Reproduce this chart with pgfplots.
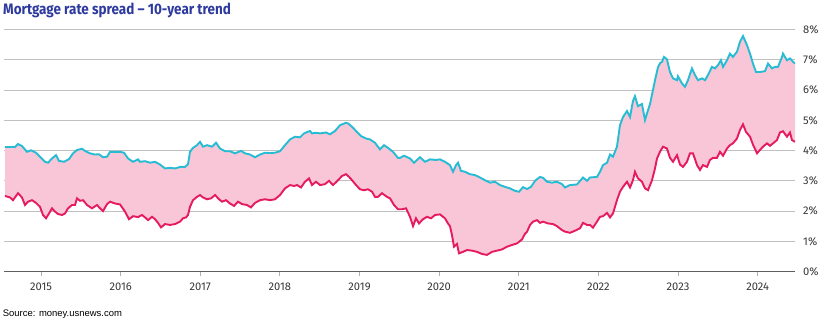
\documentclass[border=0pt]{standalone}
\usepackage{fontspec}
\setmainfont{Fira Sans}
\newfontfamily\titlefont[FakeStretch=0.89]{Fira Sans}
\newfontfamily\srcfont{Liberation Sans}
\usepackage{pgfplots}
\pgfplotsset{compat=1.18}
\usepgfplotslibrary{fillbetween}
\definecolor{upc}{RGB}{38,188,212}
\definecolor{loc}{RGB}{230,26,94}
\definecolor{fillc}{RGB}{248,198,214}
\definecolor{titlec}{RGB}{45,58,158}
\definecolor{gridc}{RGB}{192,192,192}
\definecolor{axisc}{RGB}{95,95,95}
\definecolor{tickmc}{RGB}{175,175,175}
\definecolor{tickc}{RGB}{55,55,55}
\begin{document}
\begin{tikzpicture}
\node[anchor=base west, inner sep=0pt, text=titlec, font=\titlefont\bfseries\fontsize{15.2}{18}\selectfont] at (3bp,-14bp) {Mortgage rate spread – 10-year trend};
\node[anchor=base west, inner sep=0pt, text=black, font=\srcfont\fontsize{9.5}{11}\selectfont] at (2.7bp,-316.5bp) {Source: money.usnews.com};
\begin{axis}[
  at={(4bp,-271.5bp)}, anchor=south west,
  scale only axis, width=791bp, height=241.8bp,
  xmin=2014.535, xmax=2024.469, ymin=0, ymax=8,
  axis x line*=bottom, axis y line*=right,
  y axis line style={draw=none},
  x axis line style={draw=axisc, line width=1.4bp},
  ymajorgrids, grid style={draw=gridc, line width=1bp},
  xtick={2015,2016,2017,2018,2019,2020,2021,2022,2023,2024},
  xticklabels={2015,2016,2017,2018,2019,2020,2021,2022,2023,2024},
  ytick={0,1,2,3,4,5,6,7,8},
  yticklabels={0\%,1\%,2\%,3\%,4\%,5\%,6\%,7\%,8\%},
  xtick align=outside, ytick align=inside,
  major tick length=4.5bp,
  xtick style={draw=tickmc, line width=0.9bp},
  ytick style={draw=none},
  tick label style={font=\fontsize{11.2}{13}\selectfont, text=tickc},
  yticklabel style={anchor=west, inner sep=0pt, xshift=8bp},
  xticklabel style={anchor=north, inner sep=0pt, yshift=-6.5bp},
]
\addplot[name path=up, draw=upc, line width=1.9bp] coordinates {
(2014.548,4.12)(2014.674,4.12)(2014.711,4.22)(2014.761,4.15)(2014.824,3.96)(2014.874,4.01)(2014.937,3.93)(2014.987,3.80)(2015.050,3.63)(2015.088,3.60)(2015.138,3.74)(2015.188,3.85)(2015.226,3.66)(2015.289,3.63)(2015.352,3.72)(2015.402,3.91)(2015.452,4.02)(2015.515,4.06)(2015.553,3.99)(2015.615,3.91)(2015.678,3.87)(2015.728,3.88)(2015.779,3.78)(2015.829,3.80)(2015.867,3.96)(2015.929,3.96)(2015.992,3.96)(2016.042,3.93)(2016.093,3.74)(2016.155,3.63)(2016.218,3.71)(2016.243,3.63)(2016.306,3.65)(2016.369,3.60)(2016.432,3.63)(2016.494,3.54)(2016.557,3.41)(2016.620,3.43)(2016.683,3.41)(2016.746,3.46)(2016.808,3.46)(2016.846,3.55)(2016.871,3.96)(2016.909,4.09)(2016.959,4.18)(2016.997,4.29)(2017.034,4.13)(2017.085,4.18)(2017.147,4.13)(2017.198,4.26)(2017.248,4.07)(2017.311,3.98)(2017.373,3.98)(2017.436,3.91)(2017.512,3.99)(2017.562,3.91)(2017.625,3.87)(2017.687,3.78)(2017.750,3.87)(2017.813,3.93)(2017.876,3.92)(2017.939,3.93)(2018.001,3.98)(2018.064,4.18)(2018.127,4.37)(2018.190,4.46)(2018.253,4.44)(2018.303,4.57)(2018.340,4.61)(2018.378,4.65)(2018.403,4.57)(2018.453,4.59)(2018.504,4.57)(2018.579,4.60)(2018.629,4.54)(2018.692,4.65)(2018.755,4.84)(2018.792,4.88)(2018.830,4.92)(2018.855,4.90)(2018.906,4.79)(2018.956,4.65)(2019.019,4.48)(2019.081,4.40)(2019.132,4.37)(2019.194,4.26)(2019.257,4.04)(2019.307,4.18)(2019.358,4.09)(2019.420,3.96)(2019.483,3.76)(2019.508,3.76)(2019.559,3.83)(2019.634,3.74)(2019.684,3.60)(2019.722,3.69)(2019.759,3.78)(2019.822,3.63)(2019.885,3.71)(2019.960,3.69)(2020.011,3.71)(2020.073,3.63)(2020.136,3.52)(2020.174,3.30)(2020.212,3.52)(2020.237,3.60)(2020.274,3.33)(2020.325,3.30)(2020.387,3.22)(2020.450,3.19)(2020.513,3.11)(2020.576,3.02)(2020.639,2.94)(2020.701,2.97)(2020.764,2.86)(2020.827,2.80)(2020.890,2.75)(2020.952,2.67)(2021.003,2.64)(2021.053,2.79)(2021.103,2.73)(2021.153,2.80)(2021.204,3.00)(2021.266,3.13)(2021.304,3.10)(2021.354,2.97)(2021.417,2.94)(2021.480,2.97)(2021.543,2.89)(2021.580,2.78)(2021.643,2.86)(2021.731,2.88)(2021.806,3.11)(2021.857,3.00)(2021.894,3.11)(2021.982,3.13)(2022.020,3.30)(2022.058,3.52)(2022.108,3.60)(2022.146,3.87)(2022.183,3.80)(2022.233,4.13)(2022.271,4.84)(2022.309,5.11)(2022.359,5.31)(2022.397,5.11)(2022.434,5.64)(2022.459,5.80)(2022.497,5.47)(2022.547,5.54)(2022.585,5.01)(2022.623,5.34)(2022.648,5.54)(2022.685,6.00)(2022.711,6.33)(2022.748,6.76)(2022.773,6.89)(2022.799,6.94)(2022.824,7.10)(2022.861,7.02)(2022.899,6.60)(2022.937,6.39)(2022.987,6.33)(2022.999,6.46)(2023.050,6.22)(2023.087,6.11)(2023.125,6.33)(2023.175,6.72)(2023.213,6.50)(2023.251,6.33)(2023.301,6.39)(2023.339,6.33)(2023.376,6.50)(2023.426,6.77)(2023.464,6.72)(2023.502,6.83)(2023.539,6.99)(2023.565,6.77)(2023.615,6.99)(2023.652,7.21)(2023.690,7.10)(2023.740,7.27)(2023.778,7.60)(2023.816,7.79)(2023.866,7.49)(2023.904,7.21)(2023.941,6.88)(2023.979,6.60)(2024.029,6.60)(2024.092,6.63)(2024.130,6.88)(2024.180,6.72)(2024.218,6.77)(2024.255,6.77)(2024.306,7.10)(2024.318,7.21)(2024.368,6.99)(2024.406,7.05)(2024.444,6.94)(2024.469,6.88)
};
\addplot[name path=lo, draw=loc, line width=1.9bp] coordinates {
(2014.548,2.50)(2014.611,2.45)(2014.648,2.36)(2014.711,2.59)(2014.761,2.45)(2014.799,2.20)(2014.837,2.31)(2014.887,2.36)(2014.937,2.27)(2014.987,2.14)(2015.025,1.87)(2015.063,1.76)(2015.100,1.92)(2015.138,2.09)(2015.176,1.98)(2015.214,1.90)(2015.264,1.87)(2015.301,1.92)(2015.339,2.09)(2015.389,2.20)(2015.427,2.20)(2015.452,2.42)(2015.490,2.34)(2015.527,2.36)(2015.578,2.20)(2015.640,2.09)(2015.703,2.20)(2015.741,2.09)(2015.779,2.00)(2015.829,2.23)(2015.867,2.31)(2015.929,2.25)(2015.992,2.22)(2016.055,1.98)(2016.105,1.73)(2016.155,1.83)(2016.218,1.80)(2016.268,1.87)(2016.306,1.79)(2016.344,1.70)(2016.394,1.81)(2016.432,1.73)(2016.469,1.61)(2016.507,1.46)(2016.557,1.57)(2016.620,1.54)(2016.683,1.57)(2016.746,1.65)(2016.783,1.76)(2016.821,1.79)(2016.846,1.87)(2016.871,2.14)(2016.909,2.36)(2016.959,2.47)(2016.997,2.53)(2017.034,2.45)(2017.085,2.39)(2017.135,2.42)(2017.185,2.53)(2017.235,2.39)(2017.273,2.31)(2017.323,2.36)(2017.373,2.25)(2017.424,2.17)(2017.474,2.31)(2017.524,2.23)(2017.587,2.20)(2017.637,2.12)(2017.687,2.27)(2017.750,2.36)(2017.813,2.39)(2017.876,2.36)(2017.939,2.39)(2018.001,2.53)(2018.064,2.75)(2018.127,2.86)(2018.177,2.83)(2018.215,2.86)(2018.265,2.78)(2018.315,2.97)(2018.366,3.08)(2018.403,2.86)(2018.453,2.97)(2018.504,2.86)(2018.566,2.89)(2018.617,3.00)(2018.667,2.86)(2018.730,3.02)(2018.780,3.16)(2018.830,3.22)(2018.868,3.13)(2018.906,3.02)(2018.956,2.86)(2019.006,2.72)(2019.056,2.69)(2019.106,2.72)(2019.157,2.64)(2019.194,2.47)(2019.232,2.47)(2019.282,2.59)(2019.345,2.47)(2019.383,2.42)(2019.433,2.20)(2019.483,2.06)(2019.533,2.06)(2019.584,2.09)(2019.634,1.81)(2019.672,1.50)(2019.709,1.76)(2019.747,1.59)(2019.797,1.73)(2019.847,1.81)(2019.898,1.76)(2019.948,1.87)(2020.011,1.89)(2020.073,1.76)(2020.111,1.59)(2020.136,1.50)(2020.161,1.21)(2020.186,0.82)(2020.224,0.91)(2020.249,0.60)(2020.299,0.65)(2020.350,0.71)(2020.413,0.69)(2020.475,0.65)(2020.538,0.58)(2020.601,0.55)(2020.664,0.65)(2020.726,0.69)(2020.789,0.73)(2020.852,0.82)(2020.915,0.88)(2020.978,0.93)(2021.040,1.06)(2021.078,1.25)(2021.103,1.31)(2021.141,1.54)(2021.179,1.65)(2021.229,1.70)(2021.266,1.61)(2021.304,1.65)(2021.367,1.59)(2021.430,1.57)(2021.480,1.50)(2021.543,1.37)(2021.580,1.32)(2021.643,1.28)(2021.706,1.35)(2021.769,1.43)(2021.806,1.61)(2021.857,1.54)(2021.894,1.54)(2021.932,1.45)(2021.982,1.65)(2022.020,1.81)(2022.058,1.83)(2022.108,1.94)(2022.146,1.79)(2022.183,1.92)(2022.233,2.36)(2022.271,2.64)(2022.309,2.80)(2022.359,2.97)(2022.397,2.78)(2022.434,3.02)(2022.459,3.30)(2022.497,3.08)(2022.547,2.97)(2022.585,2.75)(2022.623,2.69)(2022.673,3.02)(2022.711,3.41)(2022.736,3.74)(2022.773,3.96)(2022.811,4.13)(2022.861,4.07)(2022.899,3.76)(2022.937,3.63)(2022.987,3.85)(2023.025,3.54)(2023.062,3.46)(2023.112,3.63)(2023.150,3.91)(2023.188,3.91)(2023.238,3.52)(2023.276,3.36)(2023.313,3.52)(2023.364,3.46)(2023.401,3.69)(2023.439,3.76)(2023.489,3.76)(2023.527,3.96)(2023.565,3.83)(2023.615,4.07)(2023.652,4.18)(2023.690,4.24)(2023.740,4.40)(2023.778,4.68)(2023.816,4.87)(2023.853,4.62)(2023.904,4.46)(2023.941,4.20)(2023.992,3.91)(2024.029,4.02)(2024.067,4.13)(2024.117,4.24)(2024.155,4.16)(2024.193,4.24)(2024.243,4.35)(2024.280,4.60)(2024.318,4.64)(2024.368,4.46)(2024.406,4.60)(2024.431,4.35)(2024.469,4.29)
};
\addplot[fill=fillc, draw=none] fill between[of=up and lo];
\end{axis}
\pgfresetboundingbox
\path[use as bounding box] (0,0) rectangle (830bp,-321bp);
\end{tikzpicture}
\end{document}
